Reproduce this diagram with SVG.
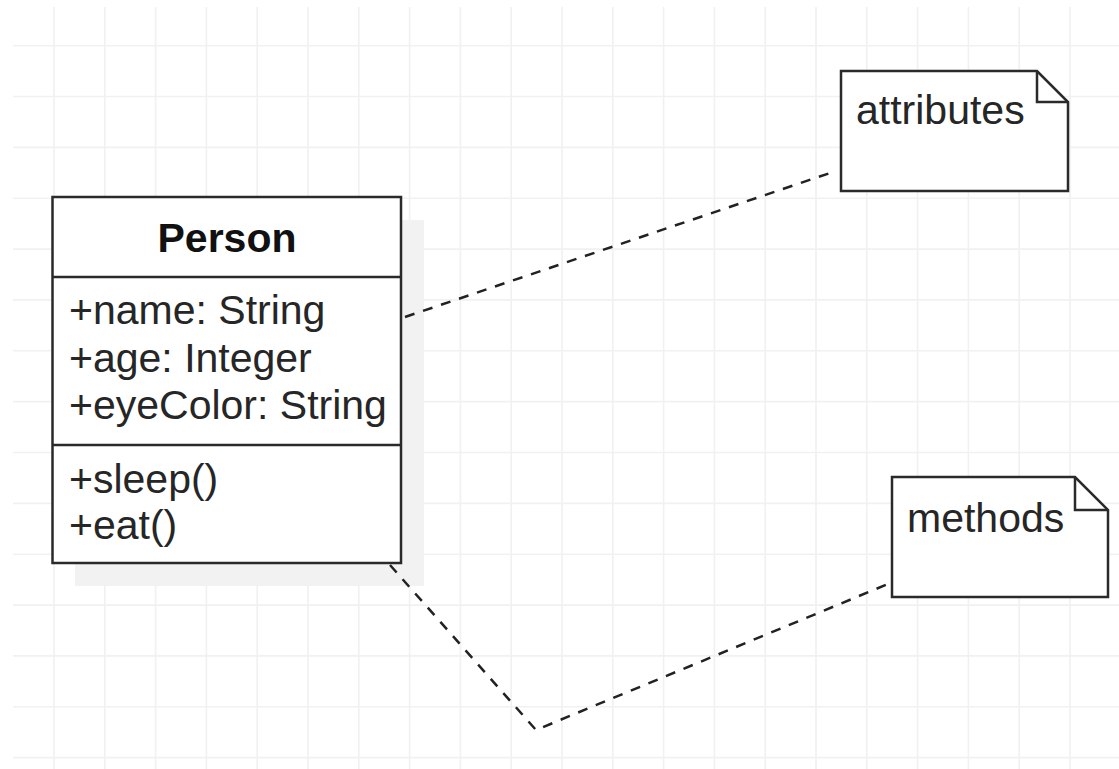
<svg xmlns="http://www.w3.org/2000/svg" width="1119" height="769" viewBox="0 0 1119 769">
<style>
.grid{stroke:#f1f1f1;stroke-width:1.6;fill:none}
.box{fill:#ffffff;stroke:#2a2a2a;stroke-width:2.5}
.div{stroke:#2a2a2a;stroke-width:2.5;fill:none}
.txt{font-family:"Liberation Sans",Arial,sans-serif;font-size:41px;fill:#262626}
.title{font-family:"Liberation Sans",Arial,sans-serif;font-size:41px;font-weight:bold;fill:#111111}
.conn{stroke:#222222;stroke-width:2.5;fill:none;stroke-dasharray:10 9}
</style>
<rect x="0" y="0" width="1119" height="769" fill="#ffffff"/>
<g id="grid">
<path class="grid" d="M54 7V769M104.8 7V769M155.6 7V769M206.4 7V769M257.2 7V769M308 7V769M358.8 7V769M409.6 7V769M460.4 7V769M511.2 7V769M562 7V769M612.8 7V769M663.6 7V769M714.4 7V769M765.2 7V769M816 7V769M866.8 7V769M917.6 7V769M968.4 7V769M1019.2 7V769M1070 7V769"/>
<path class="grid" d="M13 45.7H1119M13 96.5H1119M13 147.4H1119M13 198.2H1119M13 249.1H1119M13 299.9H1119M13 350.8H1119M13 401.6H1119M13 452.5H1119M13 503.4H1119M13 554.2H1119M13 605.1H1119M13 655.9H1119M13 706.8H1119M13 757.6H1119"/>
</g>
<g id="person">
<rect x="75" y="220" width="349" height="366" fill="#f2f2f2"/>
<rect class="box" x="52.5" y="197" width="348.5" height="366"/>
<line class="div" x1="52.5" y1="277" x2="401" y2="277"/>
<line class="div" x1="52.5" y1="445" x2="401" y2="445"/>
<text class="title" x="227" y="252" text-anchor="middle">Person</text>
<text class="txt" x="69" y="324">+name: String</text>
<text class="txt" x="69" y="372">+age: Integer</text>
<text class="txt" x="69" y="419">+eyeColor: String</text>
<text class="txt" x="69" y="493">+sleep()</text>
<text class="txt" x="69" y="539">+eat()</text>
</g>
<g id="note-attributes">
<path class="box" d="M841 71 H1037 L1068 102 V191 H841 Z"/>
<path class="div" d="M1037 71 V102 H1068"/>
<text class="txt" x="856" y="124">attributes</text>
</g>
<g id="note-methods">
<path class="box" d="M892 477 H1075 L1108 510 V597 H892 Z"/>
<path class="div" d="M1075 477 V510 H1108"/>
<text class="txt" x="907" y="532">methods</text>
</g>
<g id="connectors">
<path class="conn" d="M405 317 L833 172"/>
<path class="conn" d="M390 565 L536 730 L888 584"/>
</g>
</svg>
